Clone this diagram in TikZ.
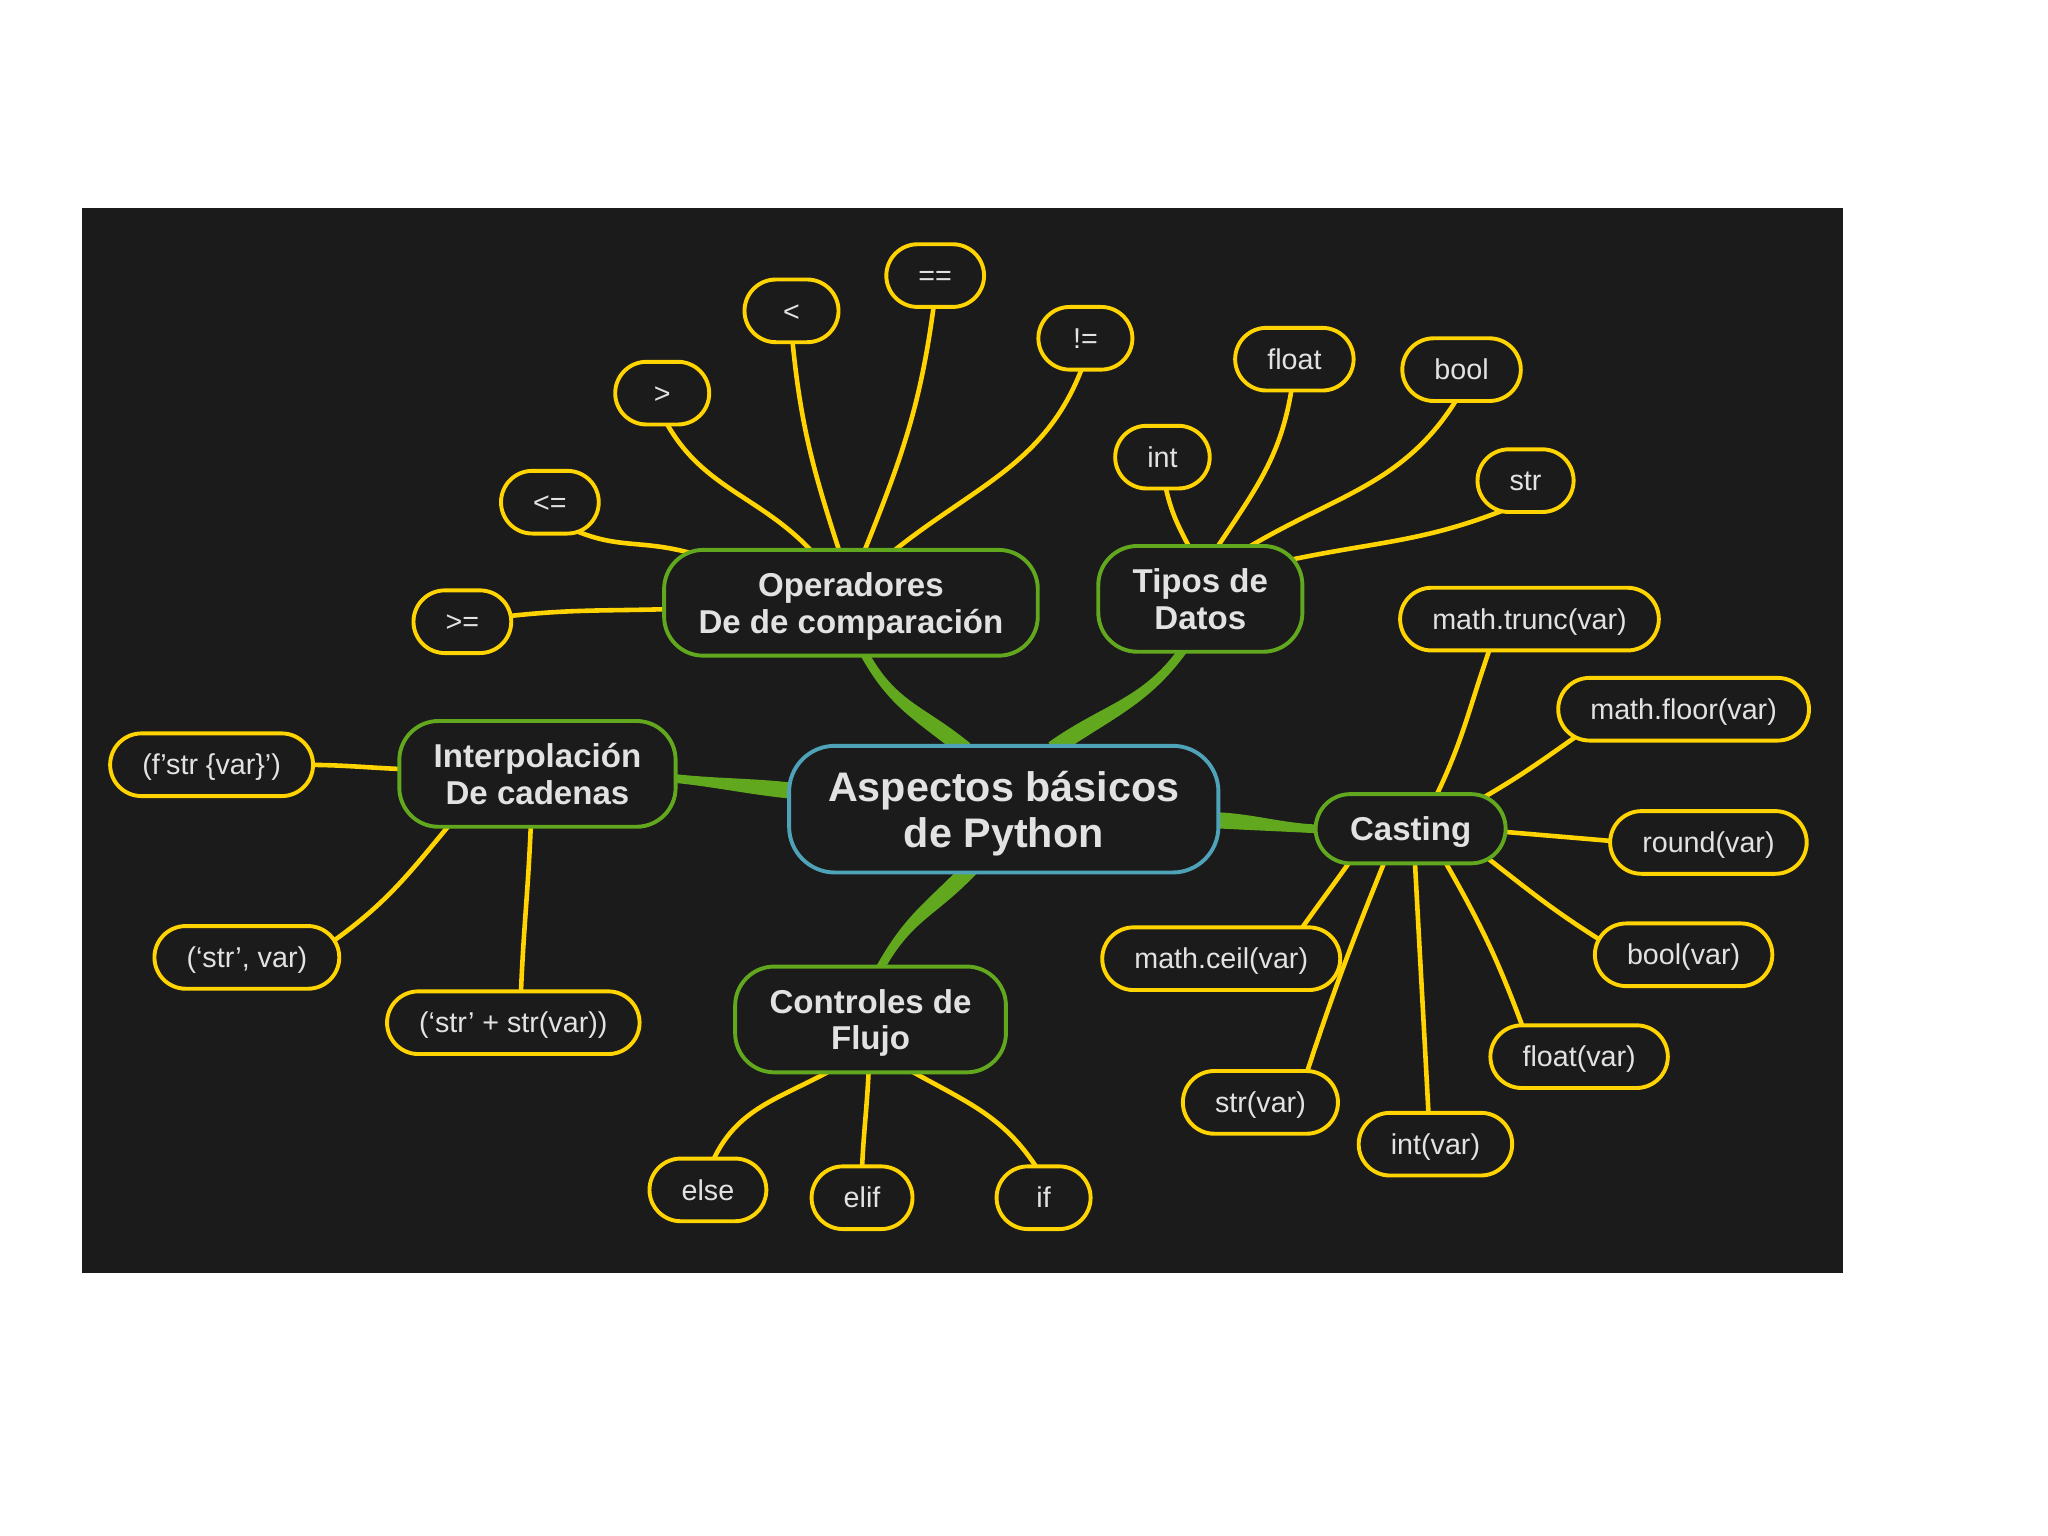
\documentclass[tikz,border=0pt]{standalone}
\usepackage{fontspec}
\setmainfont{Liberation Sans}
\usetikzlibrary{calc,backgrounds}

\definecolor{canvas}{HTML}{1B1B1B}
\definecolor{ink}{HTML}{E2E2E2}
\definecolor{rootblue}{HTML}{4FA3B8}
\definecolor{trunkgreen}{HTML}{62A81E}
\definecolor{leafyellow}{HTML}{FFD400}

\tikzset{
  hub/.style={draw=rootblue, line width=1.7pt, fill=canvas, text=ink, rounded corners=0.7cm,
    font=\bfseries\fontsize{18}{20}\selectfont, align=center, inner xsep=17pt, minimum height=1.94cm,
    text height=35pt, text depth=2pt},
  topic/.style={draw=trunkgreen, line width=1.7pt, fill=canvas, text=ink, rounded corners=0.6cm,
    font=\bfseries\fontsize{14.4}{16}\selectfont, align=center, inner xsep=15pt, minimum height=1.62cm,
    text height=28pt, text depth=1.6pt},
  leaf/.style={draw=leafyellow, line width=1.7pt, fill=canvas, text=ink, rounded corners=0.48cm,
    font=\fontsize{12.5}{15}\selectfont, inner xsep=14pt, minimum height=0.96cm, minimum width=1.44cm,
    text height=11.5pt, text depth=2.6pt},
  twig/.style={draw=leafyellow, line width=2pt, shorten <=-8pt, shorten >=-8pt}
}

% tapered green link: from, to, out angle, in angle, control distance
\newcommand{\trunkline}[5]{%
  \fill[trunkgreen]
    ($(#1)+({#3+180}:4pt)+({#3+90}:3.5pt)$) -- ($(#1)+({#3+90}:3.5pt)$)
    .. controls +(#3:#5) and +(#4:#5) .. ($(#2)+({#4-90}:1.9pt)$)
    -- ($(#2)+({#4+180}:4pt)+({#4-90}:1.9pt)$)
    -- ($(#2)+({#4+180}:4pt)+({#4+90}:1.9pt)$)
    -- ($(#2)+({#4+90}:1.9pt)$)
    .. controls +(#4:#5) and +(#3:#5) .. ($(#1)+({#3-90}:3.5pt)$)
    -- ($(#1)+({#3+180}:4pt)+({#3-90}:3.5pt)$) -- cycle;}

\begin{document}
\begin{tikzpicture}[x=0.02cm, y=-0.02cm]
    \useasboundingbox (0,0) rectangle (1568,1176);

    % Central topic
    \node[hub] (aspectos) at (768.5,619.5) {Aspectos básicos\\de Python};

    % Main branches
    \node[topic] (oper) at (651.5,461.5) {Operadores\\De de comparación};
    \node[topic] (tipos) at (919,458.5) {Tipos de\\Datos};
    \node[topic] (interp) at (411.5,592.5) {Interpolación\\De cadenas};
    \node[topic, minimum height=1.06cm, rounded corners=0.53cm, text height=10.4pt, text depth=0pt]
        (casting) at (1080,634.5) {Casting};
    \node[topic] (flujo) at (666.5,780.5) {Controles de\\Flujo};

    % Comparison operators
    \node[leaf] (ge) at (354,476) {>=};
    \node[leaf] (le) at (421,384.5) {<=};
    \node[leaf] (gt) at (507,301) {>};
    \node[leaf] (lt) at (606,238) {<};
    \node[leaf] (eq) at (716,211) {==};
    \node[leaf] (ne) at (831,259) {!=};

    % Data types
    \node[leaf] (tint) at (890,350) {int};
    \node[leaf] (tfloat) at (991,275) {float};
    \node[leaf] (tbool) at (1119,283) {bool};
    \node[leaf] (tstr) at (1168,368) {str};

    % Casting functions
    \node[leaf] (trunc) at (1171,474) {math.trunc(var)};
    \node[leaf] (floor) at (1289,543) {math.floor(var)};
    \node[leaf] (round) at (1308,645) {round(var)};
    \node[leaf] (cbool) at (1289,731) {bool(var)};
    \node[leaf] (cfloat) at (1209,809) {float(var)};
    \node[leaf] (cint) at (1099,876) {int(var)};
    \node[leaf] (cstr) at (965,844) {str(var)};
    \node[leaf] (ceil) at (935,734) {math.ceil(var)};

    % String interpolation
    \node[leaf] (fstr) at (162,585.5) {(f’str \{var\}’)};
    \node[leaf] (tuple) at (189,733) {(‘str’, var)};
    \node[leaf] (concat) at (393,783) {(‘str’ + str(var))};

    % Flow control
    \node[leaf] (felse) at (542,911) {else};
    \node[leaf] (felif) at (660,917) {elif};
    \node[leaf] (fif) at (799,917) {if};

    \begin{scope}[on background layer]
        \fill[white] (0,0) rectangle (1568,1176);
        \fill[canvas] (63,159) rectangle (1411,975);

        % Green links from the centre
        \trunkline{aspectos.125}{oper.-74}{142}{-60}{0.8cm}
        \trunkline{aspectos.49}{tipos.-110}{34}{-127}{0.9cm}
        \trunkline{aspectos.175}{interp.-2}{174}{-6}{0.6cm}
        \trunkline{aspectos.-3}{casting.180}{-3}{177}{0.5cm}
        \trunkline{aspectos.-121}{flujo.78}{-135}{60}{0.8cm}

        % Operadores
        \draw[twig] (oper.182) to[out=182,in=7] (ge.7);
        \draw[twig] (oper.163) to[out=165,in=-25] (le.-43);
        \draw[twig] (oper.127) to[out=130,in=-65] (gt.-81);
        \draw[twig] (oper.103) to[out=108,in=-85] (lt.-88);
        \draw[twig] (oper.75) to[out=68,in=-97] (eq.-93);
        \draw[twig] (oper.50) to[out=40,in=-108] (ne.-97);

        % Tipos
        \draw[twig] (tipos.103) to[out=118,in=-80] (tint.-84);
        \draw[twig] (tipos.71) to[out=57,in=-97] (tfloat.-95);
        \draw[twig] (tipos.46) to[out=32,in=-119] (tbool.-101);
        \draw[twig] (tipos.22) to[out=12,in=-158] (tstr.-133);

        % Casting
        \draw[twig] (casting.53) to[out=63,in=-110] (trunc.-141);
        \draw[twig] (casting.24) to[out=30,in=-145] (floor.-164);
        \draw[twig] (casting.-2) to[out=-5,in=175] (round.179);
        \draw[twig] (casting.-23) to[out=-38,in=148] (cbool.168);
        \draw[twig] (casting.-45) to[out=-60,in=110] (cfloat.150);
        \draw[twig] (casting.-83) to[out=-87,in=93] (cint.102);
        \draw[twig] (casting.-127) to[out=-112,in=72] (cstr.35);
        \draw[twig] (casting.-150) to[out=-125,in=55] (ceil.22);

        % Interpolacion
        \draw[twig] (interp.178) to[out=178,in=0] (fstr.0);
        \draw[twig] (interp.-149) to[out=-130,in=35] (tuple.13);
        \draw[twig] (interp.-97) to[out=-92,in=88] (concat.77);

        % Controles de flujo
        \draw[twig] (flujo.-130) to[out=-150,in=70] (felse.80);
        \draw[twig] (flujo.-92) to[out=-92,in=88] (felif.90);
        \draw[twig] (flujo.-50) to[out=-30,in=120] (fif.104);
    \end{scope}
\end{tikzpicture}
\end{document}
